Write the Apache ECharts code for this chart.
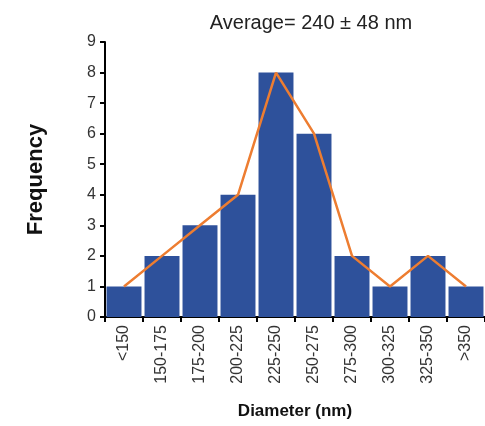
<!DOCTYPE html>
<html>
<head>
<meta charset="utf-8">
<script src="https://cdn.jsdelivr.net/npm/echarts@6/dist/echarts.min.js"></script>
<style>html,body{margin:0;padding:0;background:#fff;}#c{width:485px;height:426px;}</style>
</head>
<body>
<div id="c"></div>
<script>
var categories = ['<150','150-175','175-200','200-225','225-250','250-275','275-300','300-325','325-350','>350'];
var frequency = [1,2,3,4,8,6,2,1,2,1];
var yTicks = {min:0, max:9, interval:1};
var titleText = 'Average= 240 \u00b1 48 nm';

var chart = echarts.init(document.getElementById('c'));
var font = 'Liberation Sans, Arial, sans-serif';
chart.setOption({
  animation:false,
  textStyle:{fontFamily:font},
  title:{text:titleText,left:306,top:8,textAlign:'center',textStyle:{fontFamily:font,fontSize:20,fontWeight:'normal',color:'#222'}},
  grid:{left:105,top:42,right:-3,bottom:109,containLabel:false},
  xAxis:{
    type:'category',data:categories,
    name:'Diameter (nm)',nameLocation:'middle',nameGap:86,
    nameTextStyle:{fontFamily:font,fontSize:17,fontWeight:'bold',color:'#111'},
    axisLine:{lineStyle:{color:'#000',width:2}},
    axisTick:{show:true,length:5,lineStyle:{color:'#000',width:2}},
    axisLabel:{rotate:90,fontSize:16,color:'#333',margin:8,fontFamily:font}
  },
  yAxis:{
    type:'value',min:yTicks.min,max:yTicks.max,interval:yTicks.interval,
    name:'Frequency',nameLocation:'middle',nameGap:58,nameRotate:90,
    nameTextStyle:{fontFamily:font,fontSize:22,fontWeight:'bold',color:'#111'},
    axisLine:{show:true,lineStyle:{color:'#000',width:2}},
    axisTick:{show:true,length:5,lineStyle:{color:'#000',width:2}},
    splitLine:{show:false},
    axisLabel:{fontSize:16,color:'#333',margin:9,fontFamily:font}
  },
  series:[
    {type:'bar',data:frequency,barCategoryGap:'8%',itemStyle:{color:'#2E519B'},z:2},
    {type:'line',data:frequency,smooth:false,symbol:'none',lineStyle:{color:'#ED7D31',width:2.5},z:3}
  ]
});
</script>
</body>
</html>
